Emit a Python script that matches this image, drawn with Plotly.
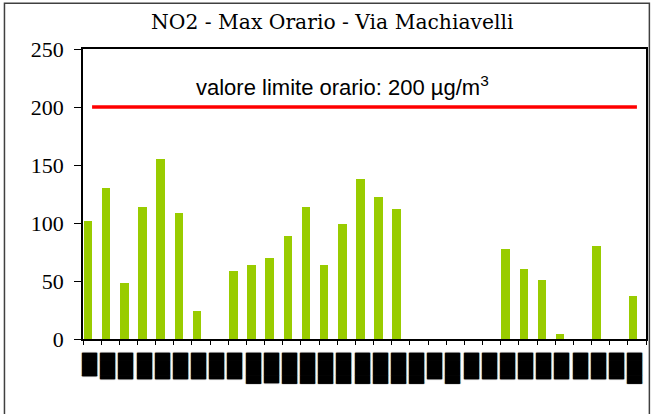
import plotly.graph_objects as go

# ---- data ----
days = list(range(1, 32))
no2_max = [102, 130, 48, 114, 155, 109, 24, 0, 59, 64, 70, 89, 114, 64, 99, 138,
           122, 112, 0, 0, 0, 0, 0, 78, 60, 51, 4, 0, 80, 0, 37]
limit_value = [200] * 31
# x tick labels (rendered as solid blocks in the reference)
S, M, L, X = "▕███", "▐███", "▕████", "████"
tick_labels = [S, M, M, M, M, M, M, M, M, L, X, L, L, L, L, L, L, L, L, M, L,
               M, M, M, M, M, M, M, M, M, L]
y_ticks = [0, 50, 100, 150, 200, 250]
title_text = "NO2 - Max Orario - Via Machiavelli"
limit_text = "valore limite orario: 200 µg/m<sup>3</sup>"

xpos = [d - 1 for d in days]

fig = go.Figure()
fig.add_trace(go.Bar(
    x=xpos, y=no2_max, width=0.47, offset=-0.46,
    marker=dict(color="#99CC00", line=dict(width=0)),
    showlegend=False, hoverinfo="y"))
fig.add_trace(go.Scatter(
    x=xpos, y=limit_value, mode="lines",
    line=dict(color="#FF0000", width=3.5),
    showlegend=False, hoverinfo="skip"))

fig.update_layout(
    width=654, height=414,
    margin=dict(l=83, r=6, t=49, b=75),
    paper_bgcolor="white", plot_bgcolor="white",
    title=dict(text=title_text, x=0.508, xanchor="center", y=0.948, yanchor="middle",
               font=dict(family="DejaVu Serif", size=20.3, color="black")),
    bargap=0,
    annotations=[dict(
        text=limit_text, xref="paper", yref="y", x=0.461, y=204,
        xanchor="center", yanchor="bottom", showarrow=False,
        font=dict(family="Liberation Sans", size=22, color="black"))],
    shapes=[dict(type="rect", xref="paper", yref="paper",
                 x0=-0.1395, x1=1.006, y0=-0.28, y1=1.158,
                 line=dict(color="#404040", width=1.5), fillcolor="rgba(0,0,0,0)",
                 layer="below")],
)

fig.update_xaxes(
    range=[-0.5, 30.5], tickmode="array", tickvals=xpos, ticktext=tick_labels,
    tickangle=-90, ticks="", ticklabelstandoff=7, ticklabelshift=-2,
    tickfont=dict(family="DejaVu Sans Mono", size=12.6, color="black",
                  shadow="0px 0px 1px #000"),
    minor=dict(tickmode="linear", tick0=-0.5, dtick=1, ticks="outside",
               ticklen=4, tickcolor="black", tickwidth=1),
    showline=True, linecolor="black", linewidth=1.8, mirror=True,
    showgrid=False, zeroline=False, fixedrange=True)

fig.update_yaxes(
    range=[0, 250], tickmode="array", tickvals=y_ticks,
    ticks="outside", ticklen=7, tickcolor="black", tickwidth=1,
    ticklabelstandoff=6,
    tickfont=dict(family="Liberation Serif", size=22, color="black"),
    showline=True, linecolor="black", linewidth=1.8, mirror=True,
    showgrid=False, zeroline=False, fixedrange=True)

fig.write_html("out.html", config={"displayModeBar": False},
               post_script="document.body.style.margin='0';")
